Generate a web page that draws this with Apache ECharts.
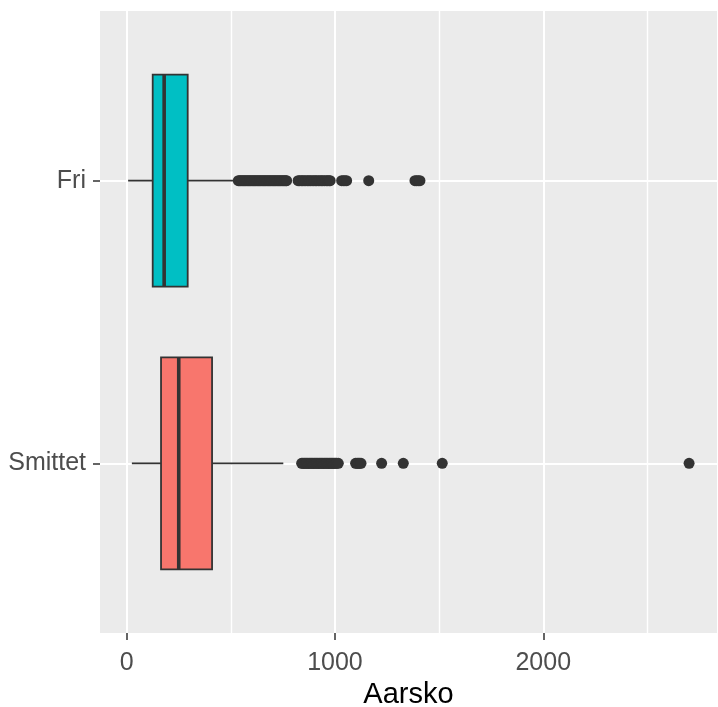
<!DOCTYPE html>
<html>
<head>
<meta charset="utf-8">
<script src="https://cdn.jsdelivr.net/npm/echarts@6/dist/echarts.min.js"></script>
<style>
  html, body { margin: 0; padding: 0; background: #fff; }
  #chart { width: 718px; height: 707px; }
</style>
</head>
<body>
<div id="chart"></div>
<script>
// categories, top to bottom
var categories = ['Fri', 'Smittet'];

// box statistics per category (Aarsko)
var whiskerLow = [7, 25];
var q1 = [125, 165];
var median = [180, 250];
var q3 = [293, 410];
var whiskerHigh = [520, 752];

// outliers
var friOutliers = [
  536, 542, 548, 554, 560, 566, 572, 578, 584, 590, 596, 602, 608, 614, 620,
  626, 632, 638, 644, 650, 656, 662, 668, 674, 680, 686, 692, 698, 704, 710,
  716, 722, 728, 734, 740, 746, 752, 758, 764, 768,
  823, 830, 838, 845, 852, 860, 868, 875, 882, 890, 898, 905, 912, 920, 928,
  935, 942, 950, 958, 965, 972, 977,
  1032, 1040, 1048, 1056,
  1162,
  1384, 1392, 1400, 1408
];
var smittetOutliers = [
  840, 846, 852, 858, 864, 870, 876, 882, 888, 894, 900, 906, 912, 918, 924,
  930, 936, 942, 948, 954, 960, 966, 972, 978, 984, 990, 996, 1002, 1008, 1016,
  1099, 1106, 1112, 1118, 1125,
  1224,
  1328,
  1515,
  2700
];

var xTicks = [0, 1000, 2000];
var xMinor = [500, 1500, 2500];
var fills = ['#00BFC4', '#F8766D'];

var boxData = categories.map(function (c, i) {
  return [i + 1, whiskerLow[i], q1[i], median[i], q3[i], whiskerHigh[i]];
});
var outlierData = friOutliers.map(function (v) { return [v, 1]; })
  .concat(smittetOutliers.map(function (v) { return [v, 2]; }));

var lineCol = '#333333';
var font = 'Liberation Sans';

function renderBox(params, api) {
  var y = api.value(0);
  var lo = api.coord([api.value(1), y]);
  var a = api.coord([api.value(2), y]);
  var m = api.coord([api.value(3), y]);
  var b = api.coord([api.value(4), y]);
  var hi = api.coord([api.value(5), y]);
  var half = api.size([0, 0.375])[1];
  var idx = params.dataIndex;
  var ls = { stroke: lineCol, lineWidth: 1.8 };
  return {
    type: 'group',
    children: [
      { type: 'line', shape: { x1: lo[0], y1: lo[1], x2: a[0], y2: a[1] }, style: ls },
      { type: 'line', shape: { x1: b[0], y1: b[1], x2: hi[0], y2: hi[1] }, style: ls },
      { type: 'rect', shape: { x: a[0], y: a[1] - half, width: b[0] - a[0], height: half * 2 },
        style: { fill: fills[idx], stroke: lineCol, lineWidth: 1.8 } },
      { type: 'line', shape: { x1: m[0], y1: m[1] - half, x2: m[0], y2: m[1] + half },
        style: { stroke: lineCol, lineWidth: 3.6 } }
    ]
  };
}

var chart = echarts.init(document.getElementById('chart'));
chart.setOption({
  animation: false,
  grid: {
    left: 100, right: 1, top: 11, bottom: 74,
    outerBoundsMode: 'none', containLabel: false,
    show: true, backgroundColor: '#EBEBEB', borderWidth: 0
  },
  xAxis: [{
    type: 'value',
    min: -128,
    max: 2834,
    name: 'Aarsko',
    nameLocation: 'middle',
    nameGap: 46,
    nameTextStyle: { color: '#000', fontSize: 29, fontFamily: font },
    axisLine: { show: false, onZero: false },
    axisTick: { show: true, length: 7, customValues: xTicks, lineStyle: { color: lineCol, width: 1.5 } },
    axisLabel: {
      customValues: xTicks, margin: 18, color: '#4D4D4D', fontSize: 25, fontFamily: font,
      formatter: function (v) { return String(v); }
    },
    splitLine: { show: true, lineStyle: { color: '#fff', width: 2 } }
  }, {
    type: 'value',
    min: -128,
    max: 2834,
    position: 'bottom',
    axisLine: { show: false, onZero: false },
    axisTick: { show: false, customValues: xMinor },
    axisLabel: { show: false, customValues: xMinor },
    splitLine: { show: true, lineStyle: { color: '#fff', width: 1.4 } }
  }],
  yAxis: {
    type: 'value',
    min: 0.4,
    max: 2.6,
    inverse: true,
    axisLine: { show: false, onZero: false },
    axisTick: { show: true, length: 7, customValues: [1, 2], lineStyle: { color: lineCol, width: 1.5 } },
    axisLabel: {
      customValues: [1, 2], margin: 14, color: '#4D4D4D', fontSize: 25, fontFamily: font,
      formatter: function (v) { return categories[Math.round(v) - 1]; }
    },
    splitLine: { show: true, lineStyle: { color: '#fff', width: 2 } }
  },
  series: [{
    type: 'custom',
    renderItem: renderBox,
    encode: { x: [1, 2, 3, 4, 5], y: 0 },
    data: boxData,
    z: 3
  }, {
    type: 'scatter',
    data: outlierData,
    symbolSize: 11,
    itemStyle: { color: lineCol, opacity: 1 },
    z: 4
  }]
});
</script>
</body>
</html>
